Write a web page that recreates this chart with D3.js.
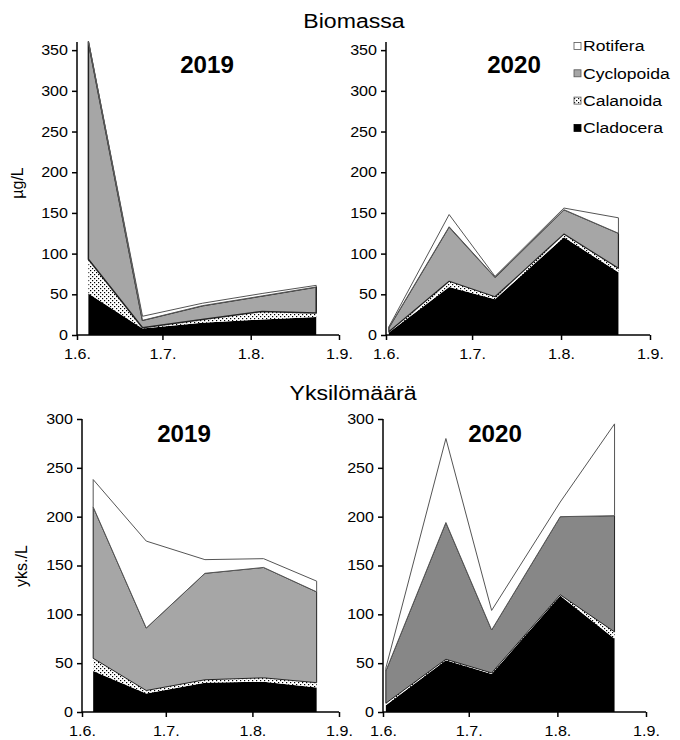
<!DOCTYPE html>
<html>
<head>
<meta charset="utf-8">
<script src="https://cdn.jsdelivr.net/npm/d3@7"></script>
<style>
  body { margin: 0; background: #fff; }
  text { font-family: "Liberation Sans", Arial, sans-serif; fill: #000; }
</style>
</head>
<body>
<svg id="chart" width="680" height="740"></svg>
<script>
// Zooplankton groups, stacked bottom to top
const taxa = ["Cladocera", "Calanoida", "Cyclopoida", "Rotifera"];

// Sampling dates
const dates2019 = ["2019-06-05", "2019-06-24", "2019-07-15", "2019-08-05", "2019-08-24"];
const dates2020 = ["2020-06-02", "2020-06-23", "2020-07-09", "2020-08-02", "2020-08-21"];

// Biomass, µg/L
const bio2019Cladocera  = [51, 8, 15, 19, 22];
const bio2019Calanoida  = [42, 1, 4, 10, 5];
const bio2019Cyclopoida = [267, 9, 17, 19, 32];
const bio2019Rotifera   = [1, 5, 3, 3, 2];

const bio2020Cladocera  = [3, 59, 44, 120, 77];
const bio2020Calanoida  = [1, 7, 3, 4, 5];
const bio2020Cyclopoida = [5, 67, 24, 30, 43];
const bio2020Rotifera   = [1, 15, 1, 2, 19];

// Abundance, individuals/L
const cnt2019Cladocera  = [42, 19, 30, 31, 25];
const cnt2019Calanoida  = [13, 3, 3, 4, 5];
const cnt2019Cyclopoida = [155, 64, 109, 113, 93];
const cnt2019Rotifera   = [28, 89, 14, 9, 11];

const cnt2020Cladocera  = [7, 53, 39, 119, 75];
const cnt2020Calanoida  = [2, 1, 1, 1, 7];
const cnt2020Cyclopoida = [33, 140, 44, 80, 119];
const cnt2020Rotifera   = [3, 86, 20, 15, 94];

// Axis ticks
const bioTicks = [0, 50, 100, 150, 200, 250, 300, 350];
const cntTicks = [0, 50, 100, 150, 200, 250, 300];

const svg = d3.select("#chart");
const parse = d3.timeParse("%Y-%m-%d");
const fmt = d3.timeFormat("%-d.%-m.");
const TX = 1.1;   // horizontal text stretch for titles
const TICKX = 1.15; // horizontal stretch for tick labels

// Dotted fill for Calanoida
const defs = svg.append("defs");
const pat = defs.append("pattern").attr("id", "dots")
  .attr("width", 4).attr("height", 4).attr("patternUnits", "userSpaceOnUse");
pat.append("rect").attr("width", 4).attr("height", 4).attr("fill", "#fff");
pat.append("rect").attr("x", 0).attr("y", 0).attr("width", 1.2).attr("height", 1.2).attr("fill", "#000");
pat.append("rect").attr("x", 2).attr("y", 2).attr("width", 1.2).attr("height", 1.2).attr("fill", "#000");

function label(g, x, y, str, size, opts = {}) {
  return g.append("text")
    .attr("transform", `translate(${x},${y}) scale(${opts.sx || TX},1)` + (opts.rot ? ` rotate(${opts.rot})` : ""))
    .attr("text-anchor", opts.anchor || "middle")
    .attr("font-size", size)
    .attr("font-weight", opts.bold ? "bold" : null)
    .text(str);
}

function panel(cfg) {
  const g = svg.append("g");
  const year = cfg.dates[0].slice(0, 4);
  const x = d3.scaleTime()
    .domain([parse(year + "-06-01"), parse(year + "-09-01")])
    .range([cfg.x0, cfg.x1]);
  const y = d3.scaleLinear().domain([0, cfg.yMax]).range([cfg.y0, cfg.yTop]);

  const rows = cfg.dates.map((d, i) => {
    const r = { date: parse(d) };
    taxa.forEach((t, k) => r[t] = cfg.series[k][i]);
    return r;
  });
  const stacked = d3.stack().keys(taxa)(rows);
  const area = d3.area()
    .x(d => x(d.data.date))
    .y0(d => y(d[0]))
    .y1(d => y(d[1]));

  const fills = { Cladocera: "#000", Calanoida: "url(#dots)", Cyclopoida: cfg.gray, Rotifera: "#fff" };
  const strokes = { Cladocera: "none", Calanoida: "none", Cyclopoida: "#222", Rotifera: "#555" };
  const widths = { Cladocera: 0, Calanoida: 0, Cyclopoida: cfg.cycW, Rotifera: 1 };

  g.selectAll("path.layer").data(stacked).join("path")
    .attr("class", "layer")
    .attr("d", area)
    .attr("fill", d => fills[d.key])
    .attr("stroke", d => strokes[d.key])
    .attr("stroke-width", d => widths[d.key])
    .attr("stroke-linejoin", "round");

  // y axis
  const ya = g.append("g").attr("transform", `translate(${cfg.x0},0)`)
    .call(d3.axisLeft(y).tickValues(cfg.ticks).tickSize(5).tickPadding(4).tickFormat(d3.format("d")));
  ya.select(".domain").attr("d", `M0,${y(cfg.yMax)}V${cfg.y0}`);
  ya.selectAll("line, path").attr("stroke", "#000").attr("stroke-width", 1.5);
  ya.selectAll("text").attr("font-size", 14).attr("font-family", '"Liberation Sans", Arial, sans-serif')
    .attr("transform", `scale(${TICKX},1)`).attr("x", -9 / TICKX);

  // x axis
  const xa = g.append("g").attr("transform", `translate(0,${cfg.y0})`)
    .call(d3.axisBottom(x).ticks(d3.timeMonth.every(1)).tickSize(5).tickPadding(9).tickFormat(fmt));
  xa.select(".domain").attr("d", `M${cfg.x0},0H${cfg.x1}`);
  xa.selectAll("line, path").attr("stroke", "#000").attr("stroke-width", 1.5);
  xa.selectAll("text").attr("font-size", 14).attr("font-family", '"Liberation Sans", Arial, sans-serif')
    .attr("transform", `scale(${TICKX},1)`);

  label(g, cfg.yearX, cfg.yearY, year, 23, { bold: true, sx: 1.05 });
  if (cfg.yLabel) label(g, cfg.yLabelX, cfg.yLabelY, cfg.yLabel, 16, { rot: -90, sx: 1 });
}

panel({ dates: dates2019, series: [bio2019Cladocera, bio2019Calanoida, bio2019Cyclopoida, bio2019Rotifera],
  x0: 77, x1: 339, y0: 335, yTop: 42, yMax: 360, ticks: bioTicks, gray: "#a6a6a6", cycW: 1.5,
  yearX: 207, yearY: 73, yLabel: "µg/L", yLabelX: 23, yLabelY: 183 });
panel({ dates: dates2020, series: [bio2020Cladocera, bio2020Calanoida, bio2020Cyclopoida, bio2020Rotifera],
  x0: 386, x1: 650, y0: 335, yTop: 42, yMax: 360, ticks: bioTicks, gray: "#a6a6a6", cycW: 1.2,
  yearX: 514, yearY: 73 });
panel({ dates: dates2019, series: [cnt2019Cladocera, cnt2019Calanoida, cnt2019Cyclopoida, cnt2019Rotifera],
  x0: 82, x1: 339, y0: 712, yTop: 419, yMax: 300, ticks: cntTicks, gray: "#a6a6a6", cycW: 1,
  yearX: 184, yearY: 442, yLabel: "yks./L", yLabelX: 27, yLabelY: 566 });
panel({ dates: dates2020, series: [cnt2020Cladocera, cnt2020Calanoida, cnt2020Cyclopoida, cnt2020Rotifera],
  x0: 383, x1: 646, y0: 712, yTop: 419, yMax: 300, ticks: cntTicks, gray: "#878787", cycW: 1,
  yearX: 495, yearY: 442 });

// Section titles
label(svg, 354, 28, "Biomassa", 21);
label(svg, 353, 400, "Yksilömäärä", 21);

// Legend
const legendItems = ["Rotifera", "Cyclopoida", "Calanoida", "Cladocera"];
const legendFill = { Rotifera: "#fff", Cyclopoida: "#a6a6a6", Calanoida: "url(#dots)", Cladocera: "#000" };
const lg = svg.append("g");
legendItems.forEach((name, i) => {
  const cy = 46 + i * 27.3;
  lg.append("rect").attr("x", 574).attr("y", cy - 3.5).attr("width", 7).attr("height", 7)
    .attr("fill", legendFill[name]).attr("stroke", name === "Cladocera" ? "#000" : "#555").attr("stroke-width", 0.8);
  label(lg, 583, cy + 5.2, name, 15, { anchor: "start", sx: 1.17 });
});
</script>
</body>
</html>
